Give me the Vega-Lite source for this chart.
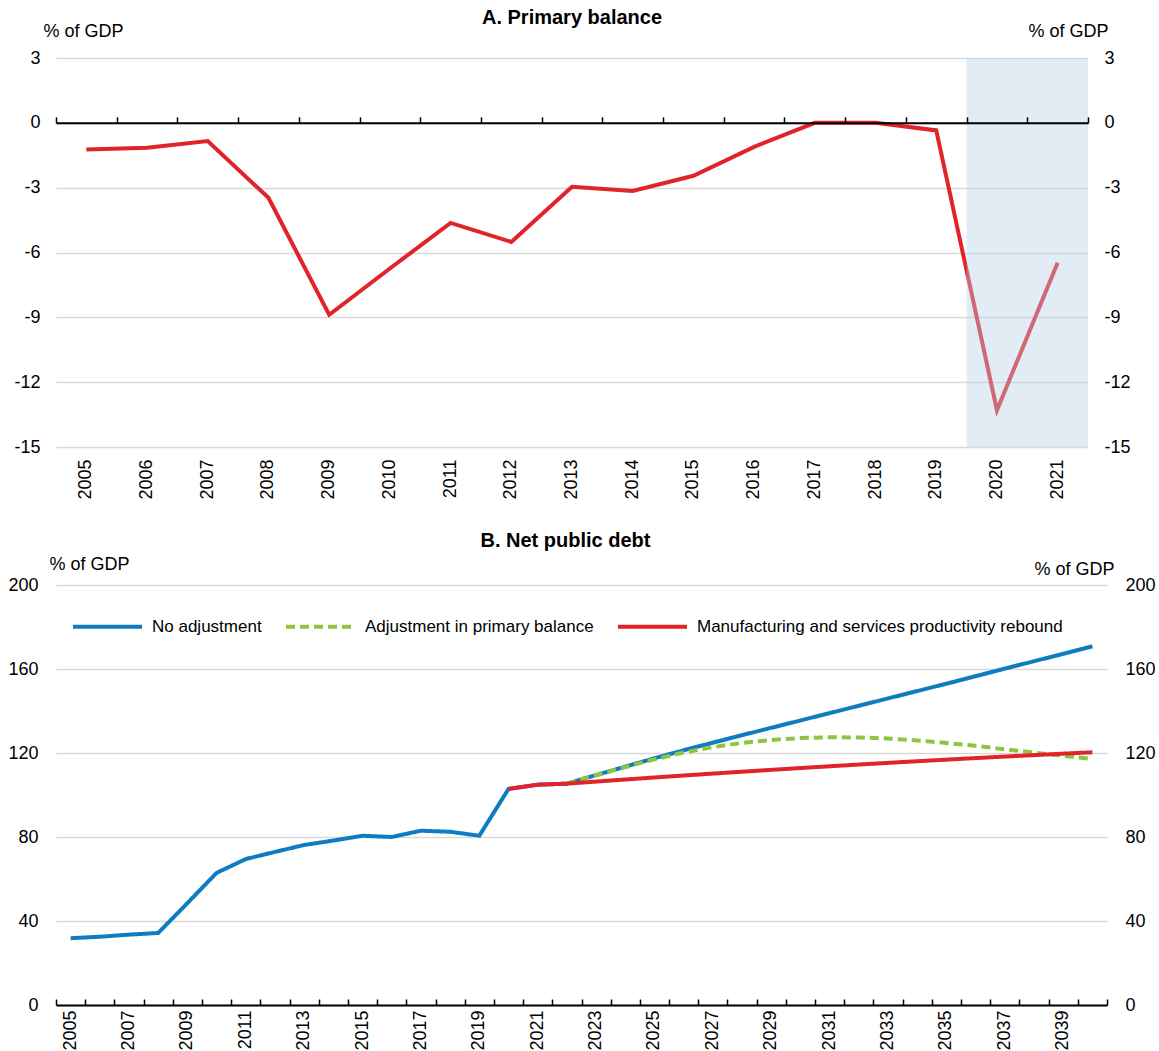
{
  "$schema": "https://vega.github.io/schema/vega-lite/v6.json",
  "padding": {"left": 7, "top": 8, "right": 0, "bottom": 0},
  "background": "white",
  "config": {
    "view": {"stroke": null},
    "font": "Liberation Sans",
    "axis": {"labelFont": "Liberation Sans", "labelFontSize": 18, "labelColor": "#000000", "titleFont": "Liberation Sans", "titleFontSize": 18, "titleFontWeight": "normal", "titleColor": "#000000", "gridColor": "#d9d9d9", "gridWidth": 1.5},
    "title": {"font": "Liberation Sans", "fontSize": 20, "fontWeight": "bold", "color": "#000000", "anchor": "middle", "frame": "group"},
    "legend": {"labelFont": "Liberation Sans", "labelFontSize": 17, "labelColor": "#000000"}
  },
  "datasets": {
    "pb": [
      {"year": "2005", "value": -1.23},
      {"year": "2006", "value": -1.15},
      {"year": "2007", "value": -0.84},
      {"year": "2008", "value": -3.47},
      {"year": "2009", "value": -8.88},
      {"year": "2010", "value": -6.74},
      {"year": "2011", "value": -4.63},
      {"year": "2012", "value": -5.51},
      {"year": "2013", "value": -2.96},
      {"year": "2014", "value": -3.15},
      {"year": "2015", "value": -2.45},
      {"year": "2016", "value": -1.11},
      {"year": "2017", "value": 0.0},
      {"year": "2018", "value": 0.0},
      {"year": "2019", "value": -0.35},
      {"year": "2020", "value": -13.3},
      {"year": "2021", "value": -6.47}
    ],
    "shade": [
      {"year": "2020"},
      {"year": "2021"}
    ],
    "debt": [
      {"year": "2005", "series": "No adjustment", "value": 31.8},
      {"year": "2006", "series": "No adjustment", "value": 32.5},
      {"year": "2007", "series": "No adjustment", "value": 33.5},
      {"year": "2008", "series": "No adjustment", "value": 34.3},
      {"year": "2009", "series": "No adjustment", "value": 48.5},
      {"year": "2010", "series": "No adjustment", "value": 62.9},
      {"year": "2011", "series": "No adjustment", "value": 69.5},
      {"year": "2012", "series": "No adjustment", "value": 72.9},
      {"year": "2013", "series": "No adjustment", "value": 76.2},
      {"year": "2014", "series": "No adjustment", "value": 78.3},
      {"year": "2015", "series": "No adjustment", "value": 80.6},
      {"year": "2016", "series": "No adjustment", "value": 80.0},
      {"year": "2017", "series": "No adjustment", "value": 83.0},
      {"year": "2018", "series": "No adjustment", "value": 82.5},
      {"year": "2019", "series": "No adjustment", "value": 80.6},
      {"year": "2020", "series": "No adjustment", "value": 102.9},
      {"year": "2021", "series": "No adjustment", "value": 104.9},
      {"year": "2022", "series": "No adjustment", "value": 105.4},
      {"year": "2023", "series": "No adjustment", "value": 109.5},
      {"year": "2024", "series": "No adjustment", "value": 113.5},
      {"year": "2025", "series": "No adjustment", "value": 117.5},
      {"year": "2026", "series": "No adjustment", "value": 121.3},
      {"year": "2027", "series": "No adjustment", "value": 124.9},
      {"year": "2028", "series": "No adjustment", "value": 128.5},
      {"year": "2029", "series": "No adjustment", "value": 132.0},
      {"year": "2030", "series": "No adjustment", "value": 135.5},
      {"year": "2031", "series": "No adjustment", "value": 139.0},
      {"year": "2032", "series": "No adjustment", "value": 142.5},
      {"year": "2033", "series": "No adjustment", "value": 146.0},
      {"year": "2034", "series": "No adjustment", "value": 149.5},
      {"year": "2035", "series": "No adjustment", "value": 153.0},
      {"year": "2036", "series": "No adjustment", "value": 156.6},
      {"year": "2037", "series": "No adjustment", "value": 160.2},
      {"year": "2038", "series": "No adjustment", "value": 163.7},
      {"year": "2039", "series": "No adjustment", "value": 167.2},
      {"year": "2040", "series": "No adjustment", "value": 170.8},
      {"year": "2022", "series": "Adjustment in primary balance", "value": 105.4},
      {"year": "2023", "series": "Adjustment in primary balance", "value": 109.4},
      {"year": "2024", "series": "Adjustment in primary balance", "value": 113.3},
      {"year": "2025", "series": "Adjustment in primary balance", "value": 117.0},
      {"year": "2026", "series": "Adjustment in primary balance", "value": 120.2},
      {"year": "2027", "series": "Adjustment in primary balance", "value": 122.8},
      {"year": "2028", "series": "Adjustment in primary balance", "value": 124.8},
      {"year": "2029", "series": "Adjustment in primary balance", "value": 126.2},
      {"year": "2030", "series": "Adjustment in primary balance", "value": 127.1},
      {"year": "2031", "series": "Adjustment in primary balance", "value": 127.5},
      {"year": "2032", "series": "Adjustment in primary balance", "value": 127.4},
      {"year": "2033", "series": "Adjustment in primary balance", "value": 126.9},
      {"year": "2034", "series": "Adjustment in primary balance", "value": 126.0},
      {"year": "2035", "series": "Adjustment in primary balance", "value": 124.8},
      {"year": "2036", "series": "Adjustment in primary balance", "value": 123.4},
      {"year": "2037", "series": "Adjustment in primary balance", "value": 121.8},
      {"year": "2038", "series": "Adjustment in primary balance", "value": 120.2},
      {"year": "2039", "series": "Adjustment in primary balance", "value": 118.6},
      {"year": "2040", "series": "Adjustment in primary balance", "value": 117.2},
      {"year": "2020", "series": "Manufacturing and services productivity rebound", "value": 102.9},
      {"year": "2021", "series": "Manufacturing and services productivity rebound", "value": 104.9},
      {"year": "2022", "series": "Manufacturing and services productivity rebound", "value": 105.4},
      {"year": "2023", "series": "Manufacturing and services productivity rebound", "value": 106.4},
      {"year": "2024", "series": "Manufacturing and services productivity rebound", "value": 107.38},
      {"year": "2025", "series": "Manufacturing and services productivity rebound", "value": 108.34},
      {"year": "2026", "series": "Manufacturing and services productivity rebound", "value": 109.28},
      {"year": "2027", "series": "Manufacturing and services productivity rebound", "value": 110.2},
      {"year": "2028", "series": "Manufacturing and services productivity rebound", "value": 111.1},
      {"year": "2029", "series": "Manufacturing and services productivity rebound", "value": 111.98},
      {"year": "2030", "series": "Manufacturing and services productivity rebound", "value": 112.84},
      {"year": "2031", "series": "Manufacturing and services productivity rebound", "value": 113.68},
      {"year": "2032", "series": "Manufacturing and services productivity rebound", "value": 114.5},
      {"year": "2033", "series": "Manufacturing and services productivity rebound", "value": 115.3},
      {"year": "2034", "series": "Manufacturing and services productivity rebound", "value": 116.08},
      {"year": "2035", "series": "Manufacturing and services productivity rebound", "value": 116.84},
      {"year": "2036", "series": "Manufacturing and services productivity rebound", "value": 117.58},
      {"year": "2037", "series": "Manufacturing and services productivity rebound", "value": 118.3},
      {"year": "2038", "series": "Manufacturing and services productivity rebound", "value": 119.0},
      {"year": "2039", "series": "Manufacturing and services productivity rebound", "value": 119.68},
      {"year": "2040", "series": "Manufacturing and services productivity rebound", "value": 120.34}
    ]
  },
  "spacing": 31,
  "vconcat": [
    {
      "width": 1032,
      "height": 389,
      "title": {"text": "A. Primary balance", "offset": -6},
      "resolve": {"axis": {"x": "independent", "y": "independent"}},
      "layer": [
        {
          "data": {"name": "pb"},
          "mark": {"type": "line", "color": "#e1232a", "strokeWidth": 4},
          "encoding": {
            "x": {"field": "year", "type": "ordinal", "scale": {"type": "band", "paddingInner": 0, "paddingOuter": 0},
                  "axis": {"orient": "bottom", "title": null, "labelAngle": -90, "ticks": false, "domain": false, "grid": false, "labelPadding": 12}},
            "y": {"field": "value", "type": "quantitative", "scale": {"domain": [-15, 3], "nice": false, "zero": false},
                  "axis": {"orient": "left", "values": [-15, -12, -9, -6, -3, 0, 3], "labelExpr": "'' + datum.value", "grid": true, "domain": false, "ticks": false, "labelPadding": 16,
                           "title": "% of GDP", "titleAngle": 0, "titleAlign": "left", "titleBaseline": "middle", "titleX": -13, "titleY": -27}}
          }
        },
        {
          "data": {"name": "shade"},
          "mark": {"type": "rect", "color": "#b6cfe6", "opacity": 0.4},
          "encoding": {
            "x": {"field": "year", "type": "ordinal",
                  "axis": {"orient": "top", "offset": -64.83, "title": null, "labels": false, "ticks": true, "tickSize": 6, "tickWidth": 1.5, "tickColor": "#000000", "tickBand": "extent", "domain": true, "domainColor": "#000000", "domainWidth": 2, "grid": false}},
            "y": {"datum": 3, "type": "quantitative",
                  "axis": {"orient": "right", "values": [-15, -12, -9, -6, -3, 0, 3], "labelExpr": "'' + datum.value", "grid": false, "domain": false, "ticks": false, "labelPadding": 16,
                           "title": "% of GDP", "titleAngle": 0, "titleAlign": "right", "titleBaseline": "middle", "titleX": 20, "titleY": -27}},
            "y2": {"datum": -15}
          }
        }
      ]
    },
    {
      "width": 1051,
      "height": 420,
      "title": {"text": "B. Net public debt", "offset": 4, "dx": -16},
      "resolve": {"axis": {"x": "independent", "y": "independent"}},
      "data": {"name": "debt"},
      "encoding": {
        "color": {"field": "series", "type": "nominal",
                  "scale": {"domain": ["No adjustment", "Adjustment in primary balance", "Manufacturing and services productivity rebound"], "range": ["#0f7cc2", "#8cc63f", "#e1232a"]},
                  "legend": {"orient": "none", "legendX": 15, "legendY": 532, "direction": "horizontal", "title": null, "symbolType": "stroke", "symbolSize": 4761, "symbolStrokeWidth": 4, "labelOffset": 8, "columnPadding": 16, "padding": 0, "labelLimit": 600}},
        "strokeDash": {"field": "series", "type": "nominal",
                  "scale": {"domain": ["No adjustment", "Adjustment in primary balance", "Manufacturing and services productivity rebound"], "range": [[1, 0], [9, 5], [1, 0]]},
                  "legend": {"orient": "none", "legendX": 15, "legendY": 532, "direction": "horizontal", "title": null, "symbolType": "stroke", "symbolSize": 4761, "symbolStrokeWidth": 4, "labelOffset": 8, "columnPadding": 16, "padding": 0, "labelLimit": 600}}
      },
      "layer": [
        {
          "transform": [{"filter": "datum.series === 'No adjustment'"}],
          "mark": {"type": "line", "strokeWidth": 4},
          "encoding": {
            "x": {"field": "year", "type": "ordinal", "scale": {"type": "band", "paddingInner": 0, "paddingOuter": 0},
                  "axis": {"orient": "bottom", "title": null, "labelAngle": -90, "ticks": false, "domain": false, "grid": false, "labelPadding": 5,
                           "labelExpr": "(+datum.value) % 2 === 1 ? datum.label : ''"}},
            "y": {"field": "value", "type": "quantitative", "scale": {"domain": [0, 200], "nice": false},
                  "axis": {"orient": "left", "values": [0, 40, 80, 120, 160, 200], "grid": true, "domain": false, "ticks": false, "labelPadding": 18,
                           "title": "% of GDP", "titleAngle": 0, "titleAlign": "left", "titleBaseline": "middle", "titleX": -7, "titleY": -21}}
          }
        },
        {
          "transform": [{"filter": "datum.series === 'Adjustment in primary balance'"}],
          "mark": {"type": "line", "strokeWidth": 4},
          "encoding": {
            "x": {"field": "year", "type": "ordinal",
                  "axis": {"orient": "top", "offset": -420, "title": null, "labels": false, "ticks": true, "tickSize": 6, "tickWidth": 1.5, "tickColor": "#000000", "tickBand": "extent", "domain": true, "domainColor": "#000000", "domainWidth": 2, "grid": false}},
            "y": {"field": "value", "type": "quantitative",
                  "axis": {"orient": "right", "values": [0, 40, 80, 120, 160, 200], "grid": false, "domain": false, "ticks": false, "labelPadding": 18,
                           "title": "% of GDP", "titleAngle": 0, "titleAlign": "right", "titleBaseline": "middle", "titleX": 7, "titleY": -16}}
          }
        },
        {
          "transform": [{"filter": "datum.series === 'Manufacturing and services productivity rebound'"}],
          "mark": {"type": "line", "strokeWidth": 4},
          "encoding": {
            "x": {"field": "year", "type": "ordinal", "axis": null},
            "y": {"field": "value", "type": "quantitative", "axis": null}
          }
        }
      ]
    }
  ]
}
